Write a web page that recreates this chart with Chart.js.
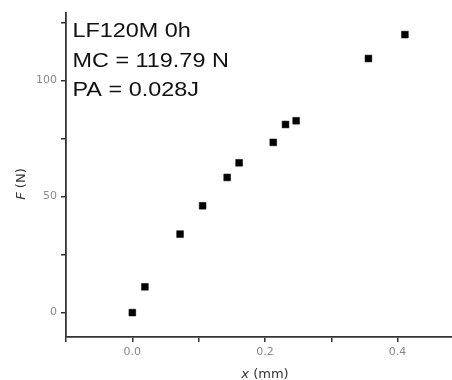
<!DOCTYPE html>
<html>
<head>
<meta charset="utf-8">
<script src="https://cdn.jsdelivr.net/npm/chart.js@4"></script>
<style>
    html, body { margin: 0; padding: 0; background: #fff; overflow: hidden; }
    #wrap { width: 452px; height: 380px; position: relative; }
    canvas { display: block; }
</style>
</head>
<body>
<div id="wrap"><canvas id="forceChart"></canvas></div>
<script>
// measured points, x in mm, F in N
const xValues = [0.000, 0.019, 0.072, 0.106, 0.143, 0.161, 0.2125, 0.231, 0.247, 0.356, 0.411];
const fValues = [0.0, 11.1, 33.8, 46.0, 58.2, 64.5, 73.3, 81.0, 82.6, 109.4, 119.7];

const xTickValues = [-0.1, 0.0, 0.1, 0.2, 0.3, 0.4];
const xLabelValues = [0.0, 0.2, 0.4];
const yTickValues = [0, 25, 50, 75, 100, 125];
const yLabelValues = [0, 50, 100];

const annotationLines = ['LF120M 0h', 'MC = 119.79 N', 'PA = 0.028J'];

const axisColor = '#333';
const tickFont = { family: 'DejaVu Sans', size: 11 };

function hasValue(list, v) {
    return list.some(x => Math.abs(x - v) < 1e-9);
}

const textPlugin = {
    id: 'textPlugin',
    afterDraw(chart) {
        const ctx = chart.ctx;
        const area = chart.chartArea;
        const xScale = chart.scales.x;

        // annotation block, top left of plot
        ctx.save();
        ctx.fillStyle = '#111';
        ctx.font = '19.5px "Liberation Sans", Arial, sans-serif';
        ctx.textAlign = 'left';
        ctx.textBaseline = 'alphabetic';
        annotationLines.forEach((line, i) => {
            ctx.save();
            ctx.translate(area.left + 6.5, 37 + i * 29.5);
            ctx.scale(1.2, 1);
            ctx.fillText(line, 0, 0);
            ctx.restore();
        });
        ctx.restore();

        // x axis title: "x (mm)" with italic x
        ctx.save();
        ctx.fillStyle = axisColor;
        ctx.textBaseline = 'alphabetic';
        const italic = 'italic 13px "DejaVu Sans", sans-serif';
        const upright = '13px "DejaVu Sans", sans-serif';
        ctx.font = italic;
        const wx = ctx.measureText('x').width;
        ctx.font = upright;
        const wr = ctx.measureText(' (mm)').width;
        let cx = xScale.getPixelForValue(0.2) - (wx + wr) / 2;
        ctx.font = italic;
        ctx.fillText('x', cx, 378);
        ctx.font = upright;
        ctx.fillText(' (mm)', cx + wx, 378);
        ctx.restore();

        // y axis title: "F (N)" rotated with italic F
        ctx.save();
        ctx.fillStyle = axisColor;
        ctx.translate(25, 184);
        ctx.rotate(-Math.PI / 2);
        ctx.font = italic;
        const wf = ctx.measureText('F').width;
        ctx.font = upright;
        const wn = ctx.measureText(' (N)').width;
        let cy = -(wf + wn) / 2;
        ctx.font = italic;
        ctx.fillText('F', cy, 0);
        ctx.font = upright;
        ctx.fillText(' (N)', cy + wf, 0);
        ctx.restore();
    }
};

const ctx = document.getElementById('forceChart').getContext('2d');
new Chart(ctx, {
    type: 'scatter',
    data: {
        datasets: [{
            data: xValues.map((x, i) => ({ x: x, y: fValues[i] })),
            pointStyle: 'rect',
            pointRadius: 4.8,
            pointHoverRadius: 4.8,
            backgroundColor: '#000',
            borderColor: '#000',
            borderWidth: 0.5
        }]
    },
    options: {
        responsive: true,
        maintainAspectRatio: false,
        animation: false,
        events: [],
        layout: { autoPadding: false, padding: { top: 13, right: 0, left: 0, bottom: 0 } },
        plugins: {
            legend: { display: false },
            tooltip: { enabled: false }
        },
        scales: {
            x: {
                type: 'linear',
                min: -0.1,
                max: 0.482,
                afterFit(scale) { scale.height = 43; },
                afterBuildTicks(scale) {
                    scale.ticks = xTickValues.map(v => ({ value: v }));
                },
                grid: {
                    display: true,
                    drawOnChartArea: false,
                    drawTicks: true,
                    tickLength: 5,
                    color: axisColor,
                    lineWidth: 1.5
                },
                border: { display: true, color: axisColor, width: 1.8 },
                ticks: {
                    autoSkip: false,
                    maxRotation: 0,
                    padding: 4,
                    color: '#8a8a8a',
                    font: tickFont,
                    callback: v => hasValue(xLabelValues, v) ? v.toFixed(1) : ''
                }
            },
            y: {
                type: 'linear',
                min: -10.5,
                max: 129,
                afterFit(scale) { scale.width = 66; },
                afterBuildTicks(scale) {
                    scale.ticks = yTickValues.map(v => ({ value: v }));
                },
                grid: {
                    display: true,
                    drawOnChartArea: false,
                    drawTicks: true,
                    tickLength: 5,
                    color: axisColor,
                    lineWidth: 1.5
                },
                border: { display: true, color: axisColor, width: 1.8 },
                ticks: {
                    autoSkip: false,
                    padding: 4,
                    color: '#8a8a8a',
                    font: tickFont,
                    callback: v => hasValue(yLabelValues, v) ? String(v) : ''
                }
            }
        }
    },
    plugins: [textPlugin]
});
</script>
</body>
</html>
